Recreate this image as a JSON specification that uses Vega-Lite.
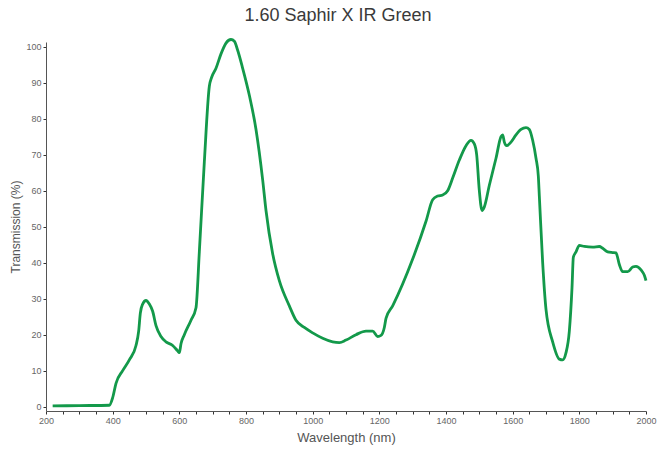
{
  "$schema": "https://vega.github.io/schema/vega-lite/v6.json",
  "width": 600,
  "height": 369,
  "autosize": {"type": "none"},
  "padding": {"left": 46, "top": 42, "right": 17, "bottom": 38},
  "background": "white",
  "title": {
    "text": "1.60 Saphir X IR Green",
    "font": "Liberation Sans",
    "fontSize": 18,
    "fontWeight": "normal",
    "color": "#3a3a3a",
    "anchor": "middle",
    "dx": -8,
    "offset": 9
  },
  "config": {
    "view": {"stroke": null},
    "axis": {
      "labelFont": "Liberation Sans",
      "titleFont": "Liberation Sans",
      "labelColor": "#666666",
      "titleColor": "#555555",
      "titleFontWeight": "normal",
      "labelFontSize": 9,
      "titleFontSize": 13,
      "domainColor": "#555555",
      "tickColor": "#333333",
      "grid": false
    }
  },
  "data": {
    "values": [
      {"nm": 220, "t": 0.2}, {"nm": 300, "t": 0.3}, {"nm": 390, "t": 0.4}, {"nm": 400, "t": 2.5},
      {"nm": 410, "t": 6.5}, {"nm": 430, "t": 10}, {"nm": 450, "t": 13}, {"nm": 470, "t": 17},
      {"nm": 478, "t": 21}, {"nm": 483, "t": 26}, {"nm": 490, "t": 28.5}, {"nm": 500, "t": 29.5},
      {"nm": 510, "t": 28.5}, {"nm": 520, "t": 26.5}, {"nm": 530, "t": 22.5}, {"nm": 545, "t": 19.5},
      {"nm": 560, "t": 18}, {"nm": 580, "t": 17}, {"nm": 595, "t": 15.5}, {"nm": 600, "t": 15},
      {"nm": 605, "t": 17.5}, {"nm": 615, "t": 20}, {"nm": 635, "t": 24}, {"nm": 650, "t": 27.5},
      {"nm": 660, "t": 43}, {"nm": 675, "t": 68}, {"nm": 690, "t": 89}, {"nm": 697, "t": 91.5},
      {"nm": 710, "t": 94}, {"nm": 725, "t": 98}, {"nm": 740, "t": 101}, {"nm": 755, "t": 102},
      {"nm": 765, "t": 101.5}, {"nm": 775, "t": 99}, {"nm": 790, "t": 94}, {"nm": 810, "t": 86.5},
      {"nm": 830, "t": 77}, {"nm": 850, "t": 63}, {"nm": 860, "t": 54.5}, {"nm": 880, "t": 42.5},
      {"nm": 900, "t": 35}, {"nm": 930, "t": 28}, {"nm": 950, "t": 24}, {"nm": 975, "t": 22},
      {"nm": 1000, "t": 20.5}, {"nm": 1030, "t": 19}, {"nm": 1060, "t": 18}, {"nm": 1080, "t": 17.8},
      {"nm": 1100, "t": 18.5}, {"nm": 1130, "t": 20}, {"nm": 1160, "t": 21}, {"nm": 1180, "t": 21},
      {"nm": 1195, "t": 19.5}, {"nm": 1205, "t": 19.8}, {"nm": 1215, "t": 22}, {"nm": 1220, "t": 24.5},
      {"nm": 1240, "t": 28}, {"nm": 1300, "t": 41}, {"nm": 1340, "t": 51.5}, {"nm": 1360, "t": 57.5},
      {"nm": 1375, "t": 58.5}, {"nm": 1390, "t": 58.8}, {"nm": 1405, "t": 60}, {"nm": 1420, "t": 63.5},
      {"nm": 1440, "t": 68.5}, {"nm": 1460, "t": 72.5}, {"nm": 1475, "t": 74}, {"nm": 1485, "t": 73},
      {"nm": 1492, "t": 70}, {"nm": 1500, "t": 60}, {"nm": 1508, "t": 54.5}, {"nm": 1515, "t": 55.5},
      {"nm": 1530, "t": 61.5}, {"nm": 1550, "t": 69}, {"nm": 1565, "t": 75}, {"nm": 1570, "t": 75.5},
      {"nm": 1575, "t": 73.5}, {"nm": 1582, "t": 72.5}, {"nm": 1595, "t": 73.5}, {"nm": 1610, "t": 75.5},
      {"nm": 1625, "t": 77}, {"nm": 1640, "t": 77.5}, {"nm": 1650, "t": 77}, {"nm": 1660, "t": 74},
      {"nm": 1670, "t": 69}, {"nm": 1677, "t": 64}, {"nm": 1680, "t": 58.5}, {"nm": 1690, "t": 40},
      {"nm": 1700, "t": 27}, {"nm": 1720, "t": 18}, {"nm": 1740, "t": 13.2}, {"nm": 1750, "t": 13},
      {"nm": 1760, "t": 15}, {"nm": 1770, "t": 21}, {"nm": 1778, "t": 33}, {"nm": 1782, "t": 41.5},
      {"nm": 1790, "t": 43}, {"nm": 1800, "t": 44.8}, {"nm": 1815, "t": 44.5}, {"nm": 1840, "t": 44.3},
      {"nm": 1860, "t": 44.5}, {"nm": 1870, "t": 44}, {"nm": 1885, "t": 43}, {"nm": 1900, "t": 42.8},
      {"nm": 1910, "t": 42.7}, {"nm": 1920, "t": 39.5}, {"nm": 1930, "t": 37.5}, {"nm": 1945, "t": 37.5},
      {"nm": 1960, "t": 38.8}, {"nm": 1970, "t": 39}, {"nm": 1985, "t": 38}, {"nm": 1995, "t": 36.5},
      {"nm": 2000, "t": 35}
    ]
  },
  "mark": {"type": "line", "color": "#13994a", "strokeWidth": 2.8, "interpolate": "monotone"},
  "encoding": {
    "x": {
      "field": "nm",
      "type": "quantitative",
      "scale": {"domain": [200, 2000], "nice": false, "zero": false},
      "axis": {
        "title": "Wavelength (nm)",
        "values": [200,250,300,350,400,450,500,550,600,650,700,750,800,850,900,950,1000,1050,1100,1150,1200,1250,1300,1350,1400,1450,1500,1550,1600,1650,1700,1750,1800,1850,1900,1950,2000],
        "labelExpr": "datum.value % 200 === 0 ? datum.label : ''",
        "format": "d",
        "tickSize": 3,
        "labelPadding": 2,
        "titlePadding": 6,
        "labelFlush": false,
        "labelOverlap": false
      }
    },
    "y": {
      "field": "t",
      "type": "quantitative",
      "scale": {"domain": [-1.2, 101.3], "nice": false, "zero": false},
      "axis": {
        "title": "Transmission (%)",
        "values": [0,10,20,30,40,50,60,70,80,90,100],
        "tickSize": 3,
        "labelPadding": 2,
        "titlePadding": 3,
        "titleFontSize": 12
      }
    }
  }
}
